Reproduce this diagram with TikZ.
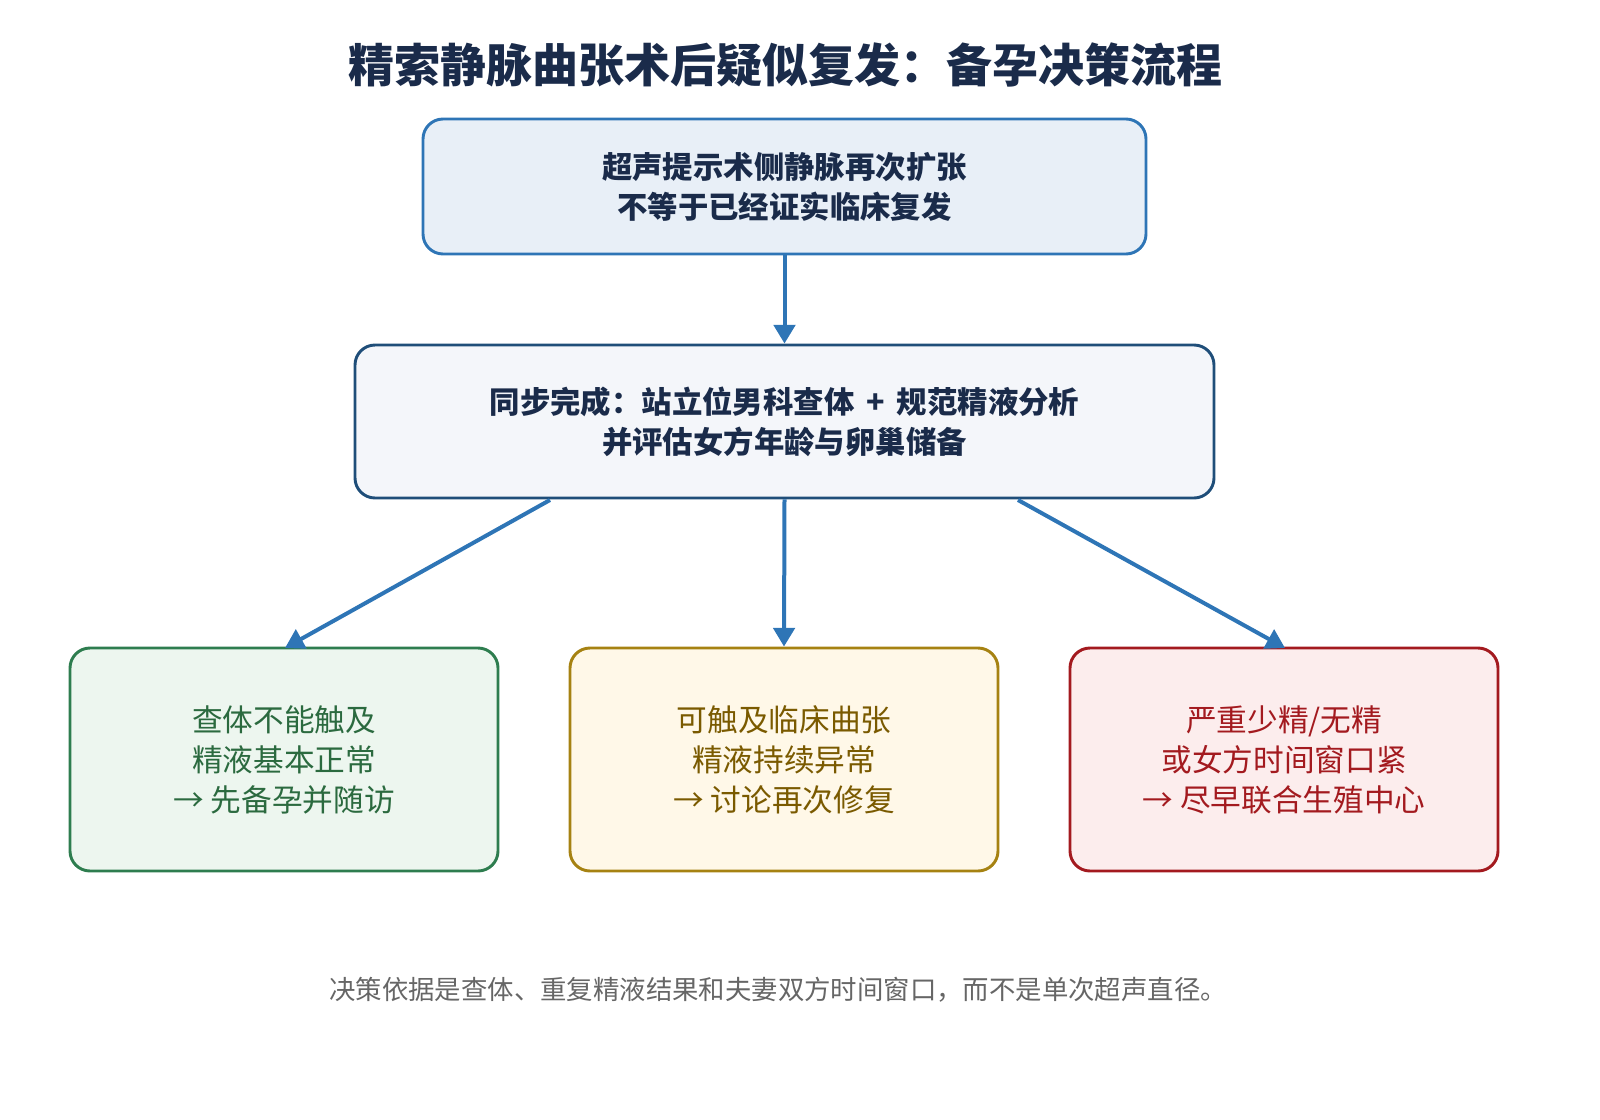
\documentclass[tikz,border=0pt]{standalone}
\usepackage{fontspec}
\setmainfont{Noto Sans CJK SC}
\usetikzlibrary{arrows.meta}
\definecolor{navy}{HTML}{1A2B4A}
\definecolor{b1}{HTML}{2E75B6}\definecolor{f1}{HTML}{E8EFF7}
\definecolor{b2}{HTML}{1F4E79}\definecolor{f2}{HTML}{F4F6FA}
\definecolor{gb}{HTML}{2E7D4F}\definecolor{gf}{HTML}{EDF6EF}\definecolor{gt}{HTML}{2B6A3F}
\definecolor{yb}{HTML}{A68212}\definecolor{yf}{HTML}{FFF8E8}\definecolor{yt}{HTML}{7A5A00}
\definecolor{rb}{HTML}{A31A1F}\definecolor{rf}{HTML}{FCEDED}\definecolor{rt}{HTML}{A31A1F}
\begin{document}
\begin{tikzpicture}[x=0.75pt,y=-0.75pt,
  box/.style={draw,line width=2.2pt,rounded corners=15pt,align=center,inner sep=0pt},
  arr/.style={draw=b1,line width=3pt,-{Triangle[length=14pt,width=16pt]}},
  top/.style={font=\fontsize{22.8}{30}\selectfont\bfseries,text=navy},
  bot/.style={font=\fontsize{23}{30}\selectfont}]
\useasboundingbox (0,0) rectangle (1600,1120);
\node[font=\fontsize{34.5}{40}\selectfont\bfseries,text=navy] (t) at (785,65) {精索静脉曲张术后疑似复发：备孕决策流程};
\node[box,draw=b1,fill=f1,minimum width=723*0.75pt,minimum height=135*0.75pt,top] (a) at (784.5,186.5) {超声提示术侧静脉再次扩张\\不等于已经证实临床复发};
\node[box,draw=b2,fill=f2,minimum width=859*0.75pt,minimum height=153*0.75pt,top] (b) at (784.5,421.5) {同步完成：站立位男科查体 \,+\, 规范精液分析\\并评估女方年龄与卵巢储备};
\node[box,draw=gb,fill=gf,text=gt,minimum width=428*0.75pt,minimum height=223*0.75pt,bot] (g) at (284,759.5) {查体不能触及\\精液基本正常\\→ 先备孕并随访};
\node[box,draw=yb,fill=yf,text=yt,minimum width=428*0.75pt,minimum height=223*0.75pt,bot] (y) at (784,759.5) {可触及临床曲张\\精液持续异常\\→ 讨论再次修复};
\node[box,draw=rb,fill=rf,text=rt,minimum width=428*0.75pt,minimum height=223*0.75pt,bot] (r) at (1284,759.5) {严重少精/无精\\或女方时间窗口紧\\→ 尽早联合生殖中心};
\coordinate (b1s) at (550,500);\coordinate (g1) at (285,648);
\coordinate (b3s) at (1018,500);\coordinate (r1) at (1285,648);
\draw[arr] (a.south) -- (b.north);
\draw[arr] (b1s) -- (g1);
\draw[arr] (b.south) -- (y.north);
\draw[arr] (b3s) -- (r1);
\node[font=\fontsize{19.8}{24}\selectfont,text=black!60] (f) at (778,990) {决策依据是查体、重复精液结果和夫妻双方时间窗口，而不是单次超声直径。};
\end{tikzpicture}
\end{document}
